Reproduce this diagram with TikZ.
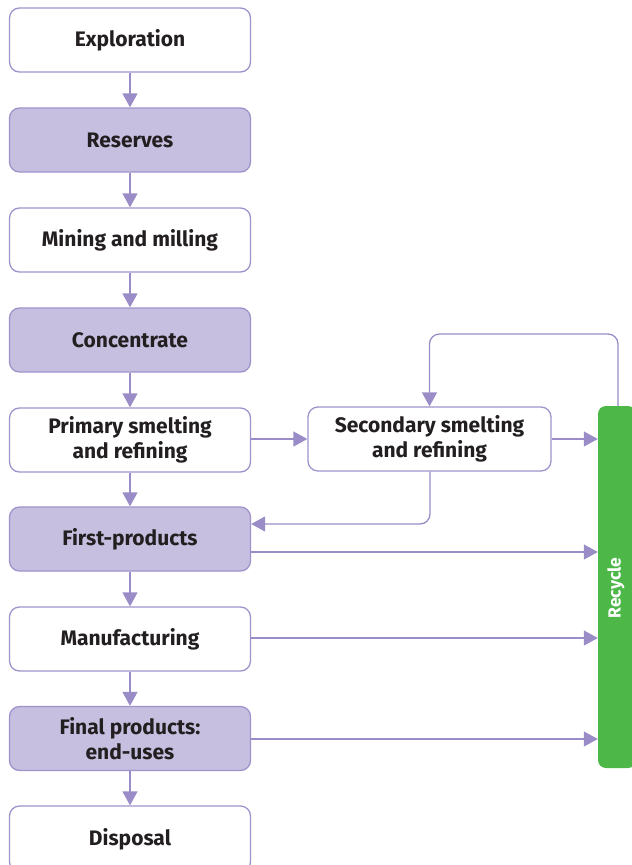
\documentclass[tikz,border=0pt]{standalone}
\usepackage{fontspec}
\setmainfont{Fira Sans}
\usetikzlibrary{arrows.meta}
\definecolor{pborder}{HTML}{A093CB}
\definecolor{pfill}{HTML}{C6BFDF}
\definecolor{parrow}{HTML}{9A8CC6}
\definecolor{rgreen}{HTML}{4DB848}
\definecolor{txt}{HTML}{231F20}
\begin{document}
\begin{tikzpicture}[x=1pt,y=-1pt,
  box/.style={draw=pborder,line width=1.3pt,rounded corners=10pt,minimum width=241pt,minimum height=64pt,
    align=center,font=\fontsize{21}{25}\selectfont\bfseries,text=txt,inner sep=0pt},
  wbox/.style={box,fill=white},
  fbox/.style={box,fill=pfill},
  conn/.style={draw=parrow,line width=1.3pt,-{Triangle[length=14pt,width=15pt]}},
  plain/.style={draw=parrow,line width=1.3pt}]
\useasboundingbox (0,0) rectangle (632,865);
\node[wbox] (expl) at (130,40) {Exploration};
\node[fbox] (res) at (130,140) {Reserves};
\node[wbox] (mine) at (130,240) {Mining and milling};
\node[fbox] (conc) at (130,340) {Concentrate};
\node[wbox] (prim) at (130,440) {Primary smelting\\and refining};
\node[fbox] (first) at (130,539) {First-products};
\node[wbox] (manu) at (130,639) {Manufacturing};
\node[fbox] (final) at (130,738.5) {Final products:\\end-uses};
\node[wbox,minimum height=66pt] (disp) at (130,839) {Disposal};
\node[wbox,minimum width=243pt] (sec) at (429.5,439) {Secondary smelting\\and refining};
\node[fill=rgreen,rounded corners=8pt,minimum width=38pt,minimum height=362pt,inner sep=0pt] (rec) at (617,587) {};
\node[rotate=90,text=white,font=\fontsize{17.5}{20}\selectfont\bfseries] (rectxt) at (616,588) {Recycle};
\draw[conn] (expl) -- (res);
\draw[conn] (res) -- (mine);
\draw[conn] (mine) -- (conc);
\draw[conn] (conc) -- (prim);
\draw[conn] (prim) -- (first);
\draw[conn] (first) -- (manu);
\draw[conn] (manu) -- (final);
\draw[conn] (final) -- (disp);
\draw[conn] (prim.east |- sec.west) -- (sec.west);
\draw[conn] (sec.east) -- (rec.west |- sec.east);
\coordinate (c1) at (430,524);
\draw[conn,rounded corners=10pt] (sec.south -| c1) -- (c1) -- (first.east |- c1);
\coordinate (c2) at (618,334);
\draw[conn,rounded corners=10pt] (rec.north -| c2) -- (c2) -- (sec.north |- c2) -- (sec.north);
\draw[conn] (first.east |- 0,552) -- (rec.west |- 0,552);
\draw[conn] (manu.east |- 0,638) -- (rec.west |- 0,638);
\draw[conn] (final.east |- 0,739) -- (rec.west |- 0,739);
\end{tikzpicture}
\end{document}
